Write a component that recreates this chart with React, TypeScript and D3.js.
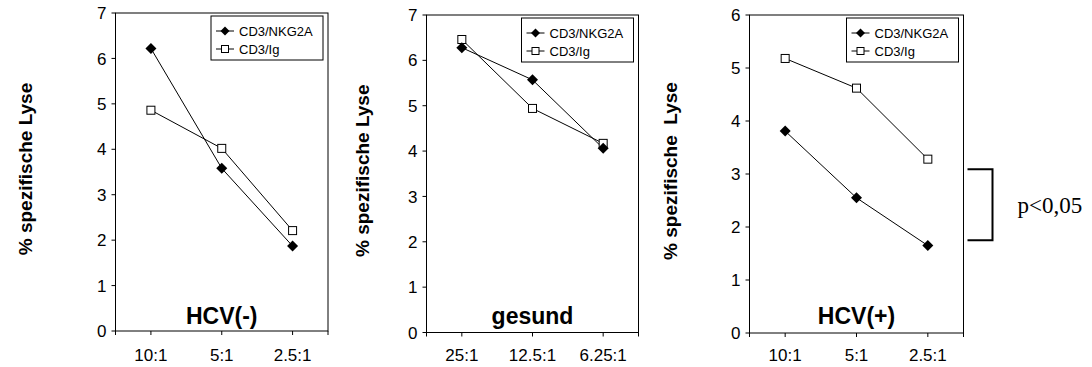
import React from "react";
import * as d3 from "d3";

const catsHcvNeg = ["10:1", "5:1", "2.5:1"];
const catsGesund = ["25:1", "12.5:1", "6.25:1"];
const catsHcvPos = ["10:1", "5:1", "2.5:1"];

const hcvNegNKG2A = [6.22, 3.58, 1.87];
const hcvNegIg = [4.86, 4.02, 2.21];
const gesundNKG2A = [6.28, 5.57, 4.06];
const gesundIg = [6.46, 4.94, 4.17];
const hcvPosNKG2A = [3.81, 2.55, 1.65];
const hcvPosIg = [5.18, 4.62, 3.28];

const seriesNames = ["CD3/NKG2A", "CD3/Ig"];
const bracketValues = [3.09, 1.75];
const pText = "p<0,05";

const SANS = "'Liberation Sans', Arial, sans-serif";
const SERIF = "'Liberation Serif', 'Times New Roman', serif";

type PanelProps = {
  left: number; right: number; top: number; bottom: number; ymax: number;
  cats: string[]; a: number[]; b: number[]; title: string; ytitle: string; ytitleX: number;
  bracket?: boolean;
};

function Diamond({ x, y, r }: { x: number; y: number; r: number }) {
  return <path d={`M${x},${y - r}L${x + r},${y}L${x},${y + r}L${x - r},${y}Z`} fill="#000" />;
}
function Square({ x, y, s }: { x: number; y: number; s: number }) {
  return <rect x={x - s / 2} y={y - s / 2} width={s} height={s} fill="#fff" stroke="#000" strokeWidth={1} />;
}

function Panel(p: PanelProps) {
  const x = d3.scaleBand<string>().domain(p.cats).range([p.left, p.right]).padding(0);
  const y = d3.scaleLinear().domain([0, p.ymax]).range([p.bottom, p.top]);
  const cx = (c: string) => (x(c) as number) + x.bandwidth() / 2;
  const line = d3.line<number>().x((_, i) => cx(p.cats[i])).y((v) => y(v));
  const yt = d3.range(0, p.ymax + 1);
  const xt = [p.left, ...p.cats.map(cx), p.right];
  const lgR = p.right - 5;
  const lgW = 112;
  const lgX = lgR - lgW;
  const lgY = p.top + 3;
  const midY = (p.top + p.bottom) / 2;
  return (
    <g>
      <rect x={p.left} y={p.top} width={p.right - p.left} height={p.bottom - p.top} fill="none" stroke="#000" strokeWidth={1} />
      {yt.map((t) => (
        <g key={t}>
          <line x1={p.left - 4} x2={p.left} y1={y(t)} y2={y(t)} stroke="#000" />
          <text x={p.left - 9} y={y(t)} dy="0.36em" textAnchor="end" fontSize={17} fontFamily={SANS}>{t}</text>
        </g>
      ))}
      {xt.map((t, i) => (
        <line key={i} x1={t} x2={t} y1={p.bottom} y2={p.bottom + 4} stroke="#000" />
      ))}
      {p.cats.map((c) => (
        <text key={c} x={cx(c)} y={361} textAnchor="middle" fontSize={17} fontFamily={SANS}>{c}</text>
      ))}
      <text x={(p.left + p.right) / 2} y={324} textAnchor="middle" fontSize={23} fontWeight="bold" fontFamily={SANS}>{p.title}</text>
      <text transform={`translate(${p.ytitleX},${midY - 3}) rotate(-90)`} textAnchor="middle" dy="0.36em" fontSize={19} fontWeight="bold" fontFamily={SANS} style={{ whiteSpace: "pre" }}>{p.ytitle}</text>
      <path d={line(p.a) || ""} fill="none" stroke="#000" strokeWidth={1} />
      <path d={line(p.b) || ""} fill="none" stroke="#000" strokeWidth={1} />
      {p.b.map((v, i) => <Square key={"s" + i} x={cx(p.cats[i])} y={y(v)} s={8} />)}
      {p.a.map((v, i) => <Diamond key={"d" + i} x={cx(p.cats[i])} y={y(v)} r={5.5} />)}
      <g>
        <rect x={lgX} y={lgY} width={lgW} height={44} fill="#fff" stroke="#000" strokeWidth={1} />
        <line x1={lgX + 5} x2={lgX + 23} y1={lgY + 15} y2={lgY + 15} stroke="#000" />
        <Diamond x={lgX + 14} y={lgY + 15} r={4.5} />
        <text x={lgX + 28} y={lgY + 15} dy="0.36em" fontSize={13} fontFamily={SANS}>{seriesNames[0]}</text>
        <line x1={lgX + 5} x2={lgX + 23} y1={lgY + 33} y2={lgY + 33} stroke="#000" />
        <Square x={lgX + 14} y={lgY + 33} s={7} />
        <text x={lgX + 28} y={lgY + 33} dy="0.36em" fontSize={13} fontFamily={SANS}>{seriesNames[1]}</text>
      </g>
      {p.bracket && (
        <g>
          <path
            d={`M${p.right + 4},${y(bracketValues[0])}H${p.right + 29}V${y(bracketValues[1])}H${p.right + 4}`}
            fill="none" stroke="#000" strokeWidth={2}
          />
          <text x={p.right + 54} y={y((bracketValues[0] + bracketValues[1]) / 2)} dy="0.36em" fontSize={23} fontFamily={SERIF}>{pText}</text>
        </g>
      )}
    </g>
  );
}

export default function App() {
  return (
    <svg width={1092} height={367} style={{ position: "absolute", left: 0, top: 0, background: "#fff" }}>
      <rect width={1092} height={367} fill="#fff" />
      <Panel left={115.5} right={328} top={13} bottom={331} ymax={7} cats={catsHcvNeg} a={hcvNegNKG2A} b={hcvNegIg}
        title="HCV(-)" ytitle="% spezifische Lyse" ytitleX={25} />
      <Panel left={426.5} right={638.5} top={15} bottom={332.5} ymax={7} cats={catsGesund} a={gesundNKG2A} b={gesundIg}
        title="gesund" ytitle="% spezifische Lyse" ytitleX={362} />
      <Panel left={749.5} right={963.5} top={15} bottom={333} ymax={6} cats={catsHcvPos} a={hcvPosNKG2A} b={hcvPosIg}
        title="HCV(+)" ytitle="% spezifische  Lyse" ytitleX={670} bracket />
    </svg>
  );
}
